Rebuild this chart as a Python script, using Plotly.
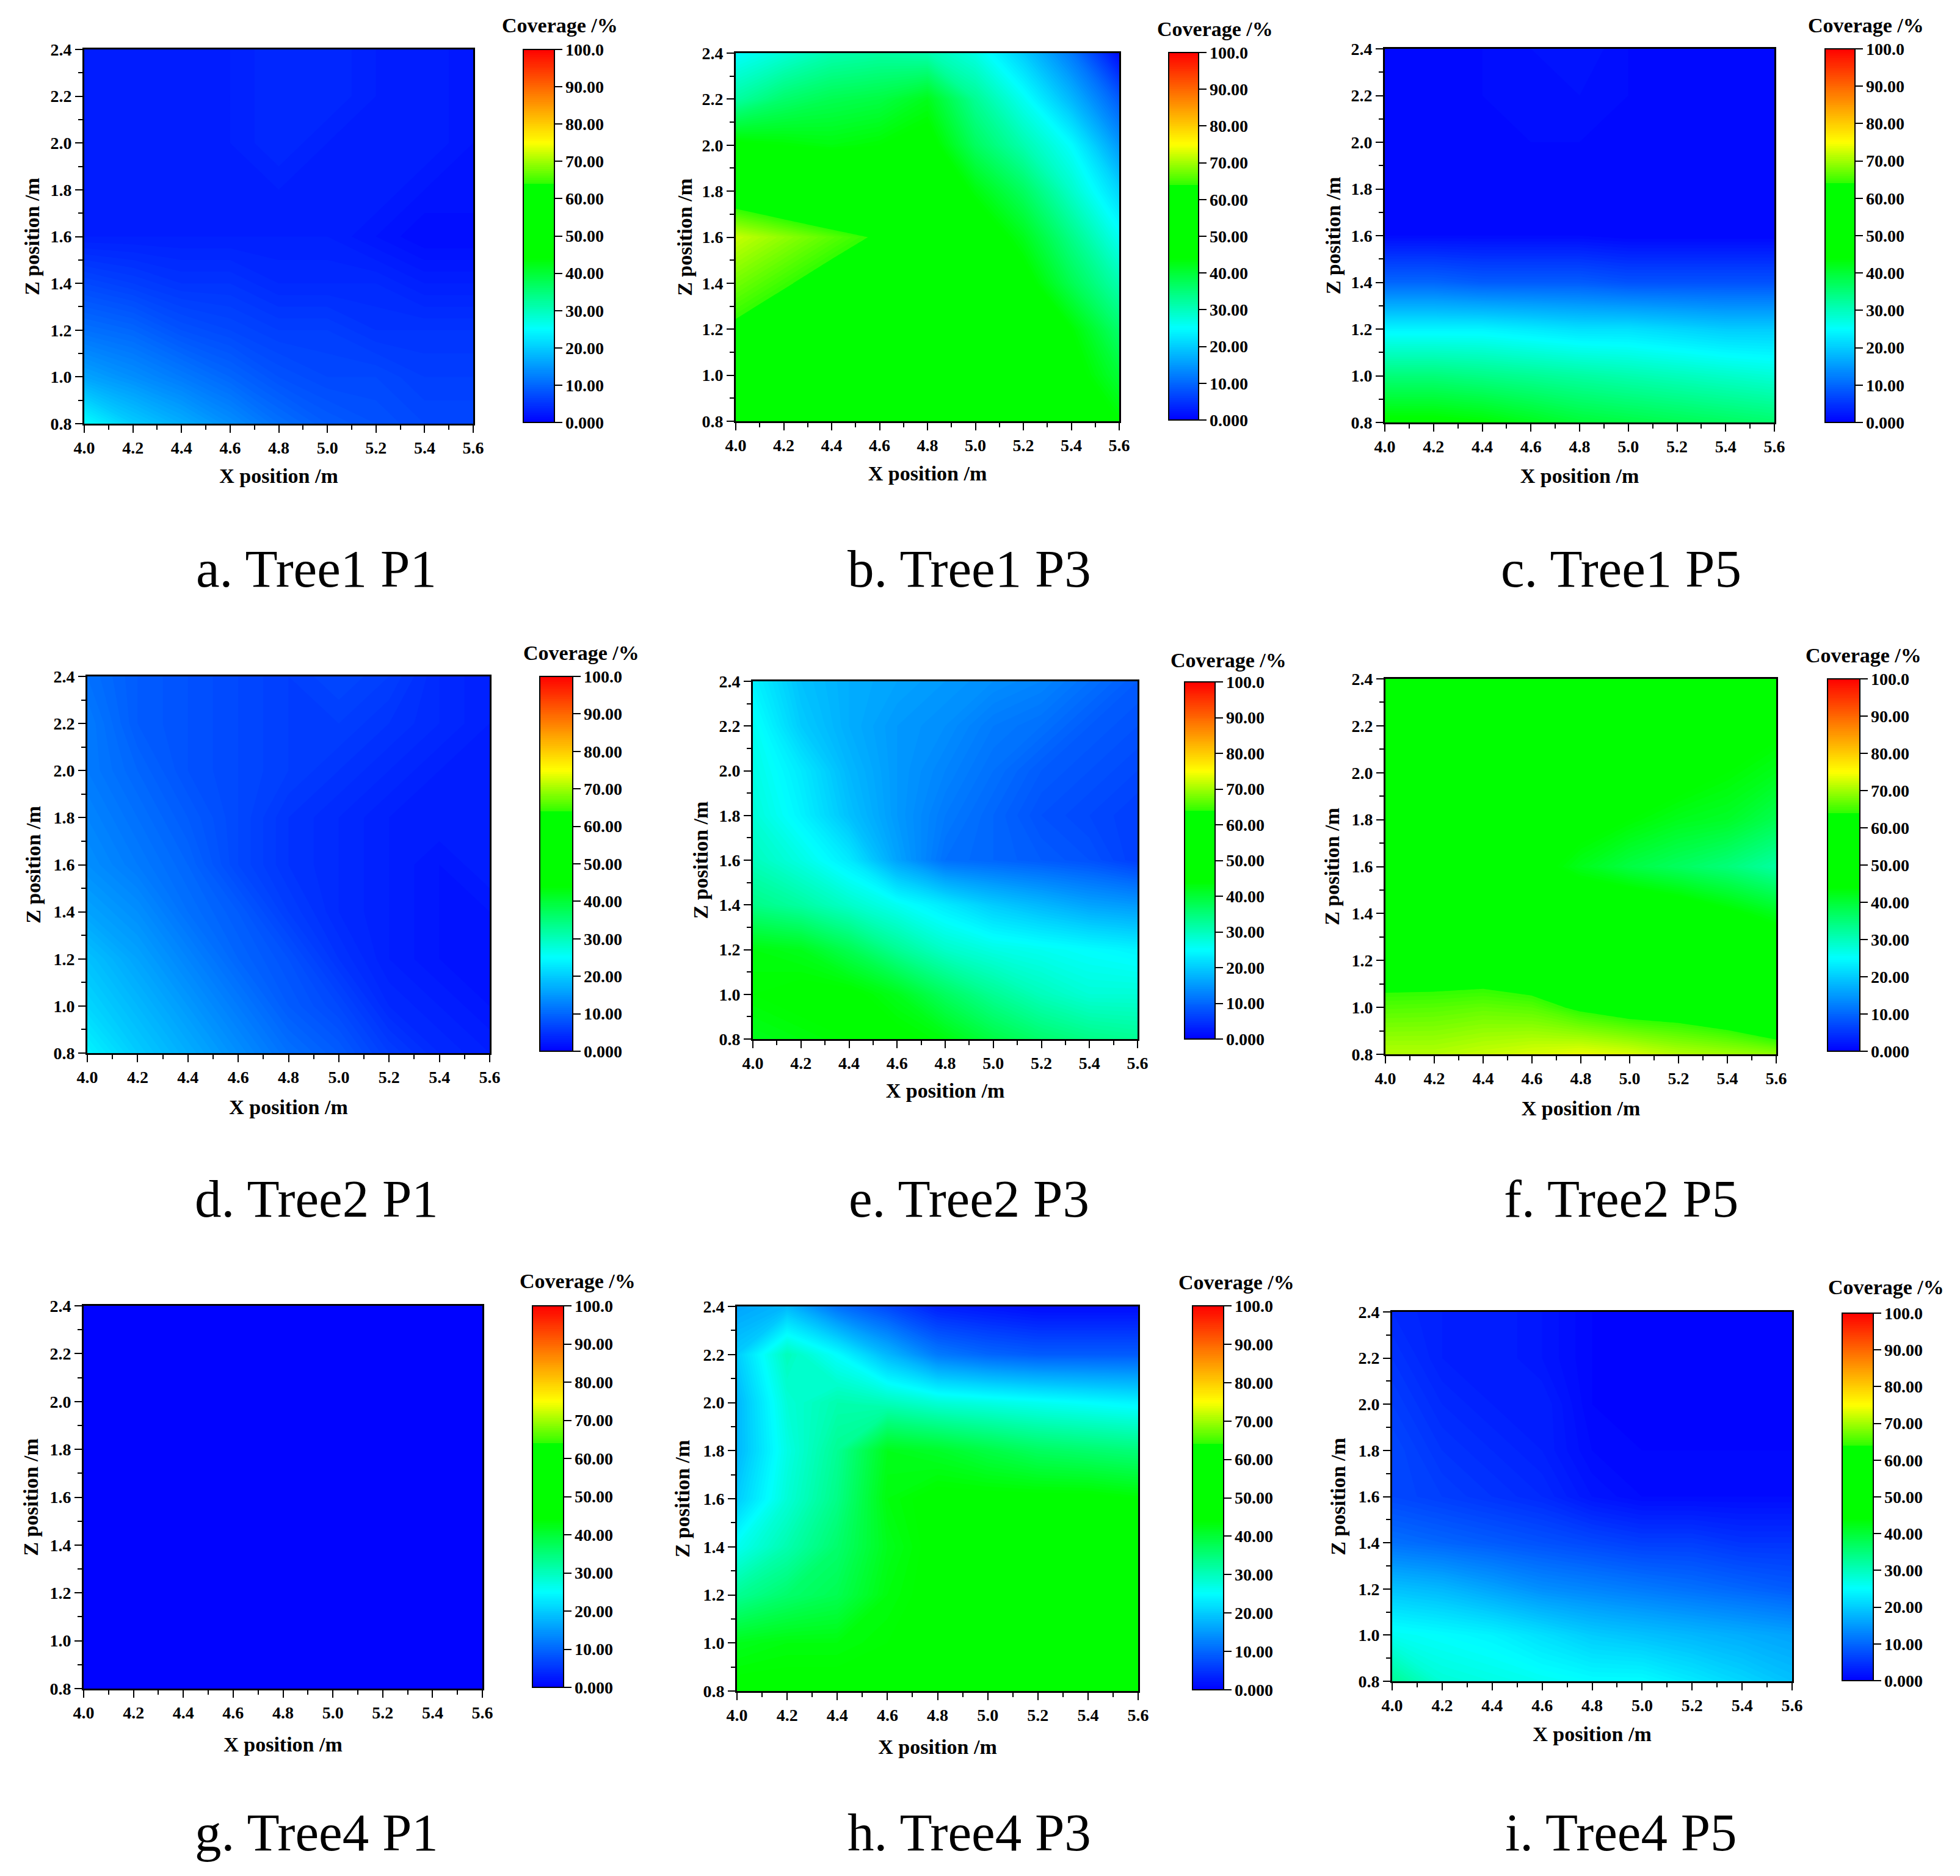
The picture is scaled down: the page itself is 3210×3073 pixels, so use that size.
import plotly.graph_objects as go

X_POS = [4.0, 4.2, 4.4, 4.6, 4.8, 5.0, 5.2, 5.4, 5.6]
Z_POS = [0.8, 1.0, 1.2, 1.4, 1.6, 1.8, 2.0, 2.2, 2.4]
X_TICKS = [4.0, 4.2, 4.4, 4.6, 4.8, 5.0, 5.2, 5.4, 5.6]
Z_TICKS = [0.8, 1.0, 1.2, 1.4, 1.6, 1.8, 2.0, 2.2, 2.4]
CB_TICKS = [0, 10, 20, 30, 40, 50, 60, 70, 80, 90, 100]
CB_LABELS = ["0.000", "10.00", "20.00", "30.00", "40.00", "50.00", "60.00", "70.00", "80.00", "90.00", "100.0"]

# rows run from Z=0.8 (first) to Z=2.4 (last); columns from X=4.0 to X=5.6
tree1_p1 = [
    [25, 20, 17, 14, 11, 9, 8, 7, 7],
    [16, 14, 12, 10, 8, 7, 7, 6, 6],
    [11, 10, 8, 7, 6, 6, 5, 5, 5],
    [7, 6, 5, 5, 4, 4, 4, 3, 3],
    [3, 3, 3, 3, 3, 3, 2, 1, 1],
    [3, 3, 3, 3, 3, 3, 3, 2, 2],
    [3, 3, 3, 3, 4, 3, 3, 3, 2],
    [3, 3, 3, 3, 4, 4, 3, 3, 2],
    [3, 3, 3, 3, 4, 4, 3, 3, 2],
]
tree1_p3 = [
    [50, 50, 50, 50, 50, 50, 50, 50, 44],
    [50, 50, 50, 50, 50, 50, 50, 46, 40],
    [63, 60, 57, 52, 50, 50, 50, 44, 36],
    [67.5, 64.6, 61.6, 58, 52, 52, 46, 38, 31],
    [72, 69.1, 66.2, 63.3, 52, 48, 42, 34, 26],
    [59, 56, 53, 50, 50, 43, 37, 29, 21],
    [45, 44, 43, 44, 46, 37, 31, 25, 15],
    [32, 36, 38, 39, 42, 33, 26, 18, 9],
    [25, 28, 31, 32, 31, 27, 20, 12, 1],
]
tree1_p5 = [
    [45, 45, 44, 42, 40, 39, 38, 37, 36],
    [35, 35, 34, 33, 32, 31, 30, 29, 28],
    [24, 24, 24, 23, 22, 22, 21, 20, 20],
    [10, 10, 9, 9, 9, 8, 8, 8, 8],
    [1, 1, 1, 1, 1, 0.5, 0.5, 0.5, 0.5],
    [1, 1, 1, 1, 1, 1, 1, 1, 1],
    [1, 1, 1, 1, 1, 1, 1, 1, 1],
    [1, 1, 1, 1.5, 1.5, 1, 1, 1, 1],
    [1, 1, 1, 1.5, 2, 1, 1, 1, 1],
]
tree2_p1 = [
    [24, 20, 17, 14, 11, 9, 6, 4, 3],
    [21, 18, 15, 12, 9, 7, 4, 3, 2],
    [19, 16, 13, 10, 8, 5, 3, 2, 2],
    [16, 14, 11, 9, 6, 4, 3, 2, 2],
    [14, 12, 10, 7, 5, 4, 3, 2, 3],
    [13, 11, 9, 7, 5, 4, 3, 3, 3],
    [12, 10, 8, 7, 6, 5, 4, 3, 3],
    [12, 9, 8, 7, 6, 6, 5, 4, 3],
    [11, 9, 8, 7, 6, 7, 6, 4, 3],
]
tree2_p3 = [
    [42, 43, 44, 45, 43, 39, 36, 34, 33],
    [44, 45, 45, 42, 37, 33, 30, 28, 28],
    [43, 42, 38, 33, 29, 27, 26, 25, 24],
    [34, 32, 29, 26, 23, 20, 18, 16, 15],
    [30, 27, 23, 16, 11, 10, 9, 8, 6],
    [28, 24, 19, 15, 12, 10, 8, 7, 6],
    [27, 23, 18, 15, 13, 11, 9, 8, 7],
    [26, 20, 17, 15, 14, 12, 11, 9, 8],
    [24, 19, 17, 16, 15, 14, 13, 11, 9],
]
tree2_p5 = [
    [71, 71, 72, 73, 74, 73, 71, 70, 69],
    [65.8, 66, 66.6, 66, 63, 61, 60.5, 58.4, 53],
    [60, 60, 60, 58, 55, 54, 52, 51, 50],
    [50, 50, 50, 50, 50, 50, 48, 45, 42],
    [50, 50, 50, 46, 42, 39, 37, 35, 32],
    [50, 50, 50, 50, 46, 44, 42, 41, 38],
    [50, 50, 50, 50, 50, 48, 46, 44, 42],
    [50, 50, 50, 50, 50, 50, 50, 48, 45],
    [50, 50, 50, 50, 50, 50, 50, 50, 50],
]
tree4_p1 = [
    [0.3, 0.3, 0.3, 0.3, 0.3, 0.3, 0.3, 0.3, 0.3],
    [0.2, 0.2, 0.2, 0.2, 0.2, 0.2, 0.2, 0.2, 0.2],
    [0.2, 0.2, 0.2, 0.2, 0.2, 0.2, 0.2, 0.2, 0.2],
    [0.2, 0.2, 0.2, 0.2, 0.2, 0.2, 0.2, 0.2, 0.2],
    [0.2, 0.2, 0.2, 0.2, 0.2, 0.2, 0.2, 0.2, 0.2],
    [0.2, 0.2, 0.2, 0.2, 0.2, 0.2, 0.2, 0.2, 0.2],
    [0.2, 0.2, 0.2, 0.2, 0.2, 0.2, 0.2, 0.2, 0.2],
    [0.2, 0.2, 0.2, 0.2, 0.2, 0.2, 0.2, 0.2, 0.2],
    [0.2, 0.2, 0.2, 0.2, 0.2, 0.2, 0.2, 0.2, 0.2],
]
tree4_p3 = [
    [45, 45, 45, 45, 45, 45, 45, 45, 45],
    [42, 43, 43, 44, 45, 45, 45, 45, 45],
    [33, 36, 38, 43, 45, 45, 45, 45, 45],
    [26, 31, 36, 42, 45, 45, 45, 45, 45],
    [20, 28, 34, 43, 45, 45, 45, 45, 44],
    [18, 27, 33, 42, 41, 39, 37, 36, 35],
    [18, 28, 31, 30, 28, 27, 26, 25, 24],
    [20, 30, 25, 18, 12, 10, 9, 9, 9],
    [16, 18, 11, 7, 3, 2, 1, 1, 1],
]
tree4_p5 = [
    [33, 28, 27, 26, 25, 25, 23, 21, 19],
    [26, 25, 24, 22, 20, 19, 18, 17, 16],
    [19, 18, 16, 14, 13, 12, 11, 10, 9],
    [11, 10, 9, 8, 7, 6, 6, 5, 5],
    [7, 6, 5, 4, 2, 1, 1, 1, 1],
    [7, 5, 4, 3, 1, 0.5, 0.5, 0.5, 0.5],
    [6, 4, 3, 3, 0.5, 0.5, 0.5, 0.5, 0.5],
    [5, 3, 3, 2, 0.5, 0.5, 0.5, 0.5, 0.5],
    [4, 3, 3, 2, 0.5, 0.5, 0.5, 0.5, 0.5],
]
CAPTIONS = ["a. Tree1 P1", "b. Tree1 P3", "c. Tree1 P5",
            "d. Tree2 P1", "e. Tree2 P3", "f. Tree2 P5",
            "g. Tree4 P1", "h. Tree4 P3", "i. Tree4 P5"]
SERIES = [tree1_p1, tree1_p3, tree1_p5, tree2_p1, tree2_p3, tree2_p5, tree4_p1, tree4_p3, tree4_p5]

W, H = 3210, 3073
PAGE_MARGIN = 8  # default body margin of the written page
PW, PH = W - 2 * PAGE_MARGIN, H - 2 * PAGE_MARGIN
# plot: x0,x1,ytop,ybot; colourbar: x0,x1,ytop,ybot; coverage title: cx,cy; x-title y; z-title x; caption cx,cy
PANELS = [
    ((138, 775, 81, 694), (857, 908, 81, 692), (917, 41), 778, 55, (518, 931)),
    ((1205, 1833, 87, 690), (1914, 1963, 86, 688), (1990, 47), 774, 1124, (1587, 931)),
    ((2268, 2906, 80, 692), (2989, 3038, 80, 692), (3056, 41), 778, 2186, (2655, 931)),
    ((143, 802, 1108, 1725), (884, 938, 1108, 1722), (952, 1069), 1812, 57, (518, 1963)),
    ((1233, 1863, 1116, 1702), (1940, 1990, 1117, 1702), (2012, 1081), 1785, 1150, (1587, 1963)),
    ((2269, 2909, 1112, 1727), (2993, 3046, 1112, 1722), (3052, 1073), 1814, 2184, (2655, 1963)),
    ((137, 790, 2139, 2766), (872, 923, 2139, 2764), (946, 2098), 2856, 53, (518, 3001)),
    ((1207, 1864, 2140, 2770), (1953, 2004, 2139, 2768), (2025, 2100), 2860, 1120, (1587, 3001)),
    ((2280, 2935, 2149, 2754), (3017, 3068, 2151, 2753), (3089, 2108), 2839, 2194, (2655, 3001)),
]

COLORSCALE = [[0, "#0000ff"], [0.25, "#00ffff"], [0.44, "#00ff00"], [0.64, "#00ff00"],
              [0.642, "#33ff00"], [0.75, "#ffff00"], [1, "#ff0000"]]
SERIF = "Liberation Serif"

fig = go.Figure()
annotations = []
shapes = []
BOLD = dict(family=SERIF, size=28, color="black", weight="bold")
TITLE = dict(family=SERIF, size=34, color="black", weight="bold")


def fx(px):
    return (px - PAGE_MARGIN) / PW


def fy(py):
    return 1 - (py - PAGE_MARGIN) / PH


for i, (z, cap, panel) in enumerate(zip(SERIES, CAPTIONS, PANELS), start=1):
    (x0, x1, yt, yb), (cx0, cx1, cyt, cyb), (tx, ty), xt_y, zt_x, (capx, capy) = panel
    fig.add_trace(go.Contour(
        x=X_POS, y=Z_POS, z=z, xaxis=f"x{i}", yaxis=f"y{i}",
        colorscale=COLORSCALE, zauto=False, zmin=0, zmax=100,
        autocontour=False,
        contours=dict(start=0, end=100, size=0.5, coloring="fill", showlines=False),
        line=dict(width=0, smoothing=0),
        hoverinfo="skip",
        colorbar=dict(
            x=fx(cx0), xanchor="left", xpad=0, thickness=cx1 - cx0, thicknessmode="pixels",
            y=fy(cyb), yanchor="bottom", ypad=0, len=(cyb - cyt) / PH, lenmode="fraction",
            outlinecolor="black", outlinewidth=2,
            ticks="outside", ticklen=12, tickwidth=2, tickcolor="black",
            tickmode="array", tickvals=CB_TICKS, ticktext=CB_LABELS,
            tickfont=BOLD,
        ),
    ))
    fig.update_layout({
        f"xaxis{i}": dict(
            domain=[fx(x0), fx(x1)], anchor=f"y{i}", range=[4.0, 5.6],
            tickmode="array", tickvals=X_TICKS, tickformat=".1f", ticks="outside",
            ticklen=12, tickwidth=2, tickcolor="black",
            minor=dict(dtick=0.1, tick0=4.0, ticks="outside", ticklen=7, tickwidth=2, tickcolor="black"),
            showline=True, linecolor="black", linewidth=3, mirror=True, showgrid=False, zeroline=False,
            tickfont=BOLD, automargin=False,
            title=dict(text="X position /m", font=TITLE, standoff=max(0, xt_y - yb - 64)),
        ),
        f"yaxis{i}": dict(
            domain=[fy(yb), fy(yt)], anchor=f"x{i}", range=[0.8, 2.4],
            tickmode="array", tickvals=Z_TICKS, tickformat=".1f", ticks="outside",
            ticklen=12, tickwidth=2, tickcolor="black",
            minor=dict(dtick=0.1, tick0=0.8, ticks="outside", ticklen=7, tickwidth=2, tickcolor="black"),
            showline=True, linecolor="black", linewidth=3, mirror=True, showgrid=False, zeroline=False,
            tickfont=BOLD, automargin=False,
            title=dict(text="Z position /m", font=TITLE, standoff=max(0, x0 - zt_x - 75)),
        ),
    })
    annotations.append(dict(text="Coverage /%", x=fx(tx), y=fy(ty), xref="paper", yref="paper",
                            xanchor="center", yanchor="middle", showarrow=False, font=TITLE))
    annotations.append(dict(text=cap, x=fx(capx), y=fy(capy), xref="paper", yref="paper",
                            xanchor="center", yanchor="middle", showarrow=False,
                            font=dict(family=SERIF, size=87, color="black")))
    shapes.append(dict(type="rect", xref="paper", yref="paper", x0=fx(cx0), x1=fx(cx1),
                       y0=fy(cyt + 3), y1=fy(cyt), fillcolor="#808080", line=dict(width=0)))

fig.update_layout(
    width=PW, height=PH, margin=dict(l=0, r=0, t=0, b=0),
    paper_bgcolor="white", plot_bgcolor="white", showlegend=False,
    annotations=annotations, shapes=shapes,
)
fig.write_html("out.html")
